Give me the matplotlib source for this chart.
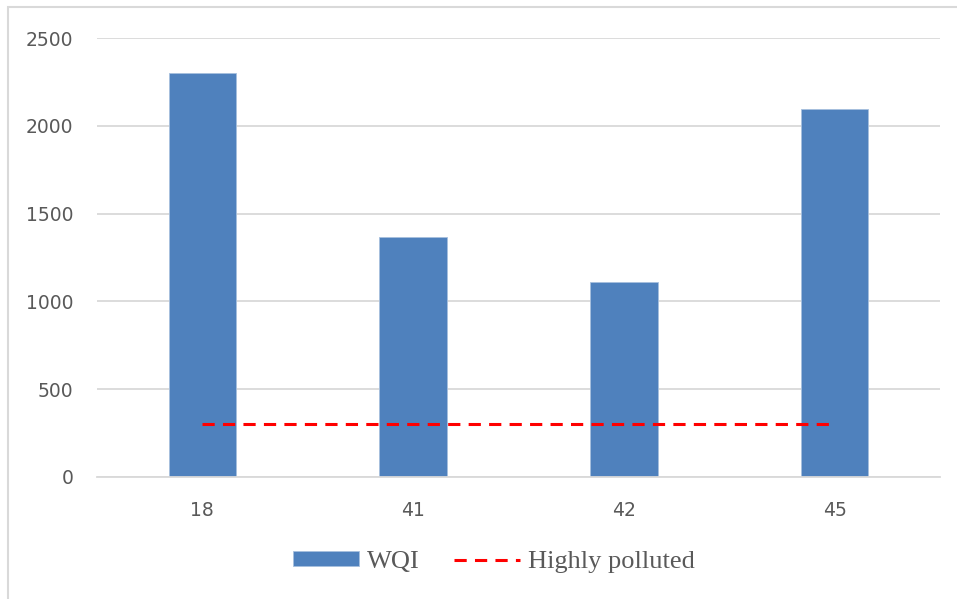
import matplotlib.pyplot as plt
from matplotlib.patches import Rectangle

# Sample sites and water quality index values
sites = ["18", "41", "42", "45"]
wqi = [2300, 1367, 1110, 2096]
threshold = [300, 300, 300, 300]

bar_color = "#4F81BD"
text_color = "#595959"
grid_color = "#D9D9D9"

fig = plt.figure(figsize=(9.57, 5.99), dpi=100)
W, H = 957, 599
ax = fig.add_axes([97 / W, 1 - 477 / H, (940 - 97) / W, (477 - 38) / H])

x = list(range(len(sites)))
bars = ax.bar(x, wqi, width=0.32, color=bar_color, edgecolor="#A7C0DE", linewidth=0.6,
              label="WQI", zorder=2)
line, = ax.plot(x, threshold, color="#FF0000", linestyle=(0, (4, 2.7)), linewidth=2.2,
                label="Highly polluted", zorder=3)

ax.set_xlim(-0.5, len(sites) - 0.5)
ax.set_ylim(0, 2500)
ax.set_yticks([0, 500, 1000, 1500, 2000, 2500])
ax.set_xticks(x)
ax.set_xticklabels(sites)
ax.grid(axis="y", color=grid_color, linewidth=1.3, zorder=0)
ax.set_axisbelow(True)
for side in ["top", "right", "left"]:
    ax.spines[side].set_visible(False)
ax.spines["bottom"].set_color(grid_color)
ax.spines["bottom"].set_linewidth(1.3)
ax.tick_params(axis="both", length=0, colors=text_color, labelsize=13.5)
ax.tick_params(axis="y", pad=17)
ax.tick_params(axis="x", pad=17)

leg = fig.legend([bars, line], ["WQI", "Highly polluted"], loc="center",
                 bbox_to_anchor=(494 / W, 1 - 562 / H), ncol=2, frameon=False,
                 prop={"family": "Liberation Serif", "size": 19}, handlelength=2.5,
                 handleheight=0.5, columnspacing=1.3, handletextpad=0.3)
for t in leg.get_texts():
    t.set_color(text_color)

# outer chart border
fig.patches.append(Rectangle((8 / W, -0.05), 1.1, 1 - 7 / H + 0.05, transform=fig.transFigure,
                             fill=False, edgecolor="#D9D9D9", linewidth=1.5))

fig.savefig("out.png", dpi=100)
